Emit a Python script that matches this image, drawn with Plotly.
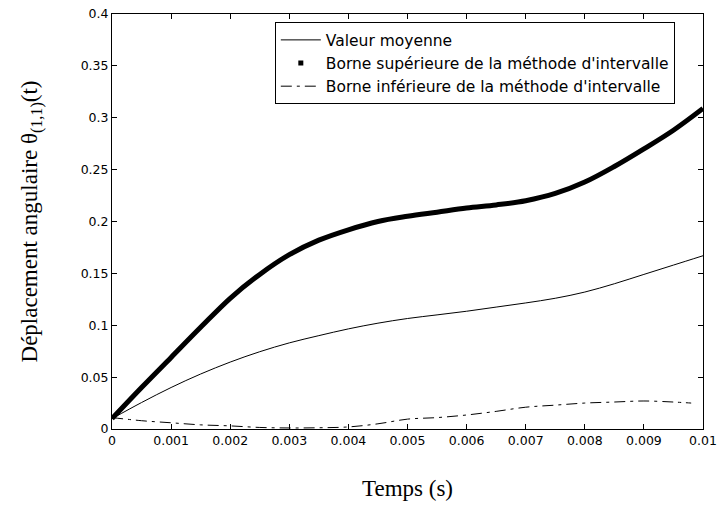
import plotly.graph_objects as go

# ---- data ----
t = [0.0, 0.0005, 0.001, 0.0015, 0.002, 0.0025, 0.003, 0.0035, 0.004, 0.0045,
     0.005, 0.0055, 0.006, 0.0065, 0.007, 0.0075, 0.008, 0.0085, 0.009, 0.0095, 0.01]

mean_vals = [0.010, 0.0255, 0.040, 0.053, 0.0645, 0.0745, 0.083, 0.090, 0.0965, 0.102,
             0.1065, 0.110, 0.1135, 0.1175, 0.1215, 0.126, 0.132, 0.140, 0.149, 0.158, 0.167]

upper_vals = [0.010, 0.040, 0.069, 0.098, 0.126, 0.149, 0.168, 0.182, 0.192, 0.200,
              0.205, 0.209, 0.213, 0.216, 0.220, 0.227, 0.238, 0.253, 0.270, 0.288, 0.309]

t_low = [0.0, 0.0005, 0.001, 0.0015, 0.002, 0.0025, 0.003, 0.0035, 0.004, 0.0045,
         0.005, 0.0055, 0.006, 0.0065, 0.007, 0.0075, 0.008, 0.0085, 0.009, 0.0095, 0.0098]
lower_vals = [0.011, 0.008, 0.006, 0.004, 0.003, 0.0015, 0.001, 0.0012, 0.002, 0.005,
              0.0095, 0.011, 0.0135, 0.017, 0.021, 0.023, 0.025, 0.026, 0.027, 0.026, 0.025]

x_ticks = [0, 0.001, 0.002, 0.003, 0.004, 0.005, 0.006, 0.007, 0.008, 0.009, 0.01]
x_ticklabels = ["0", "0.001", "0.002", "0.003", "0.004", "0.005", "0.006", "0.007", "0.008", "0.009", "0.01"]
y_ticks = [0, 0.05, 0.1, 0.15, 0.2, 0.25, 0.3, 0.35, 0.4]
y_ticklabels = ["0", "0.05", "0.1", "0.15", "0.2", "0.25", "0.3", "0.35", "0.4"]

names = ["Valeur moyenne",
         "Borne supérieure de la méthode d'intervalle",
         "Borne inférieure de la méthode d'intervalle"]

fig = go.Figure()

fig.add_trace(go.Scatter(x=t, y=mean_vals, mode="lines", name=names[0],
                         line=dict(color="black", width=1, shape="spline")))
# thick dotted upper bound curve
fig.add_trace(go.Scatter(x=t, y=upper_vals, mode="lines", name=names[1], showlegend=False,
                         line=dict(color="black", width=5, shape="spline")))
# legend entry for the dotted series (dot marker)
fig.add_trace(go.Scatter(x=[None], y=[None], mode="markers", name=names[1],
                         marker=dict(color="black", size=5, symbol="square")))
fig.add_trace(go.Scatter(x=t_low, y=lower_vals, mode="lines", name=names[2],
                         line=dict(color="black", width=1, dash="11px,5px,3px,5px", shape="spline")))

axis_common = dict(showline=True, linecolor="black", linewidth=1, mirror="ticks",
                   ticks="inside", ticklen=5, tickcolor="black", showgrid=False,
                   zeroline=False, automargin=False,
                   tickfont=dict(family="DejaVu Sans", size=12.5, color="black"))

title_font = dict(family="Liberation Serif, Times New Roman", size=23, color="black")

fig.update_xaxes(range=[0, 0.01], tickvals=x_ticks, ticktext=x_ticklabels,
                 title=dict(text="Temps (s)", standoff=32, font=title_font),
                 **axis_common)
fig.update_yaxes(range=[0, 0.4], tickvals=y_ticks, ticktext=y_ticklabels,
                 title=dict(text="Déplacement angulaire θ<sub>(1,1)</sub>(t)", standoff=36,
                            font=title_font),
                 **axis_common)

fig.update_layout(
    width=719, height=507,
    margin=dict(l=112, r=16, t=14, b=78),
    plot_bgcolor="white", paper_bgcolor="white",
    legend=dict(x=0.2755, y=0.98, xanchor="left", yanchor="top",
                bgcolor="white", bordercolor="black", borderwidth=1,
                font=dict(family="DejaVu Sans", size=15.5, color="black"),
                tracegroupgap=0, itemwidth=40),
)

fig.write_html("out.html", config={"displayModeBar": False},
               post_script="document.body.style.margin='0';document.body.style.overflow='hidden';")
